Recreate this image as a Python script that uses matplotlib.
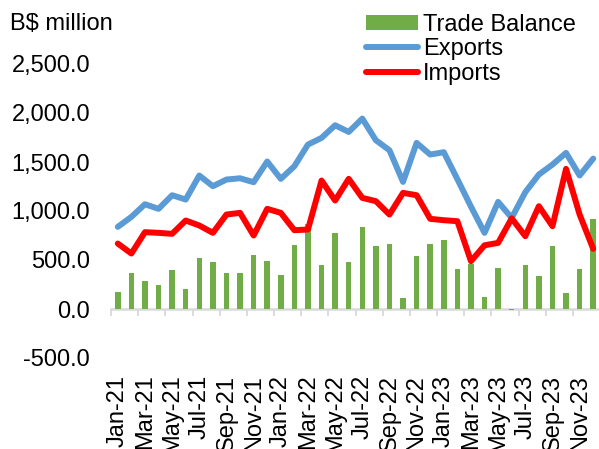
import numpy as np
import matplotlib
matplotlib.use('Agg')
import matplotlib.pyplot as plt

# monthly data, Jan-21 .. Dec-23 (B$ million)
months = ['Jan-21', 'Feb-21', 'Mar-21', 'Apr-21', 'May-21', 'Jun-21',
          'Jul-21', 'Aug-21', 'Sep-21', 'Oct-21', 'Nov-21', 'Dec-21',
          'Jan-22', 'Feb-22', 'Mar-22', 'Apr-22', 'May-22', 'Jun-22',
          'Jul-22', 'Aug-22', 'Sep-22', 'Oct-22', 'Nov-22', 'Dec-22',
          'Jan-23', 'Feb-23', 'Mar-23', 'Apr-23', 'May-23', 'Jun-23',
          'Jul-23', 'Aug-23', 'Sep-23', 'Oct-23', 'Nov-23', 'Dec-23']

exports = [838, 940, 1069, 1022, 1161, 1117, 1362, 1253, 1321, 1334, 1294, 1505,
           1328, 1457, 1678, 1746, 1875, 1807, 1943, 1722, 1620, 1297, 1695, 1576,
           1600, 1325, 1045, 777, 1093, 930, 1192, 1372, 1474, 1593, 1362, 1535]

imports = [668, 566, 784, 777, 767, 903, 852, 777, 964, 981, 750, 1022,
           981, 804, 811, 1311, 1107, 1328, 1134, 1100, 964, 1185, 1161, 920,
           906, 896, 488, 650, 675, 925, 743, 1049, 845, 1430, 964, 614]

balance = [175, 372, 284, 240, 393, 209, 525, 478, 369, 365, 556, 485,
           342, 651, 870, 447, 777, 478, 835, 641, 665, 114, 536, 665,
           706, 410, 464, 126, 415, -10, 451, 335, 638, 165, 410, 923]

plt.rcParams['font.family'] = ['Liberation Sans', 'DejaVu Sans']
fs = 17

fig = plt.figure(figsize=(5.99, 4.49), dpi=100)
ax = fig.add_axes([111/599, 91/449, 489/599, 294/449])

x = np.arange(len(months))
b = ax.bar(x, balance, width=0.4, color='#70AD47', label='Trade Balance', zorder=2)
l1, = ax.plot(x, exports, color='#5B9BD5', lw=4.3, label='Exports', zorder=3,
              solid_capstyle='round', solid_joinstyle='round')
l2, = ax.plot(x, imports, color='#FF0000', lw=4.3, label='Imports', zorder=3,
              solid_capstyle='round', solid_joinstyle='round')

ax.set_xlim(-0.5, len(months) - 0.5)
ax.set_ylim(-500, 2500)
ax.set_yticks(np.arange(-500, 2501, 500))
ax.set_yticklabels(['{:,.1f}'.format(v) for v in np.arange(-500, 2501, 500)])
ax.tick_params(axis='y', length=0, pad=15, labelsize=fs)

# labels at the bottom (every second month)
ax.set_xticks(x[::2])
ax.set_xticklabels(months[::2], rotation=90)
ax.tick_params(axis='x', length=0, pad=12, labelsize=fs)

for s in ax.spines.values():
    s.set_visible(False)

# category axis with tick marks drawn at zero
sec = ax.secondary_xaxis(500 / 3000)
sec.set_xticks(np.arange(-0.5, len(months), 2))
sec.set_xticklabels([])
sec.tick_params(axis='x', direction='out', length=5, width=1.3, color='#D9D9D9')
sec.spines['bottom'].set_color('#D9D9D9')
sec.spines['bottom'].set_linewidth(1.8)

fig.text(10/599, 1 - 24/449, 'B$ million', fontsize=fs, va='center', ha='left')

leg = ax.legend([b, l1, l2], ['Trade Balance', 'Exports', 'Imports'],
                loc='upper left', bbox_to_anchor=(366/599, 1 - 14/449),
                bbox_transform=fig.transFigure, frameon=False, fontsize=fs,
                borderpad=0, borderaxespad=0, handlelength=2.2,
                handletextpad=0.2, labelspacing=0.1, handleheight=0.6)

fig.savefig('out.png', dpi=100)
